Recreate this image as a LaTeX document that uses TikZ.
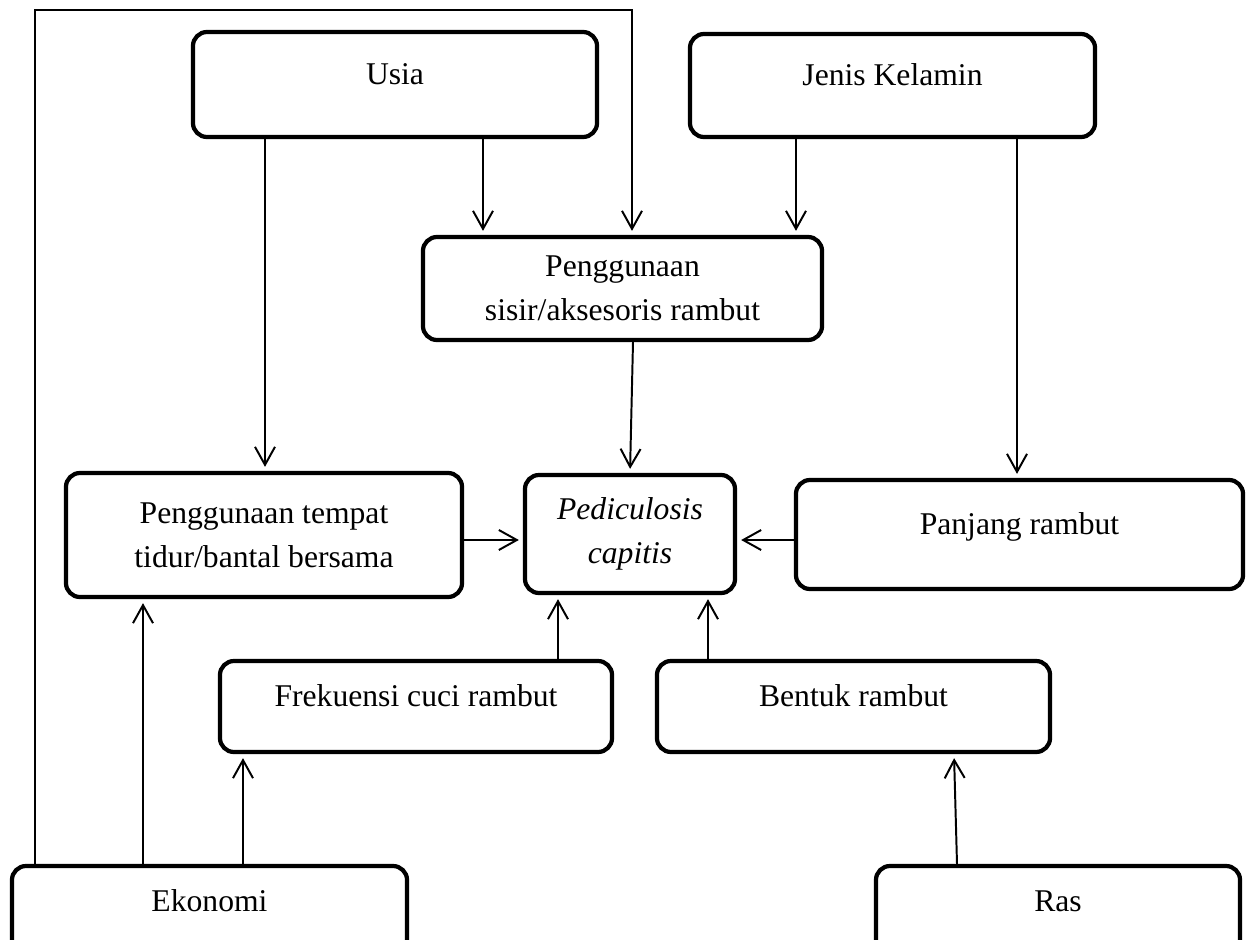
\documentclass[tikz,border=0pt]{standalone}
\usepackage{fontspec}
\setmainfont{Liberation Serif}
\usetikzlibrary{arrows.meta}
\tikzset{
  kotak/.style={draw, line width=3pt, rounded corners=10pt, align=center,
    inner sep=0pt, font=\fontsize{22.5}{31.5}\selectfont},
  satubaris/.style={text height=.7em, text depth=.7em},
  panah/.style={-{Straight Barb[length=4.5mm,width=5mm]}, line width=1.4pt, shorten >=1mm}
}
\begin{document}
\begin{tikzpicture}[x=0.025cm, y=-0.025cm]
        \useasboundingbox (0,0) rectangle (1256,940);
        \clip (0,0) rectangle (1256,940);
        % Define nodes for the factors
        \node at (395,84.5) (usia) [kotak, satubaris, minimum width=10.1cm, minimum height=2.625cm] {Usia};
        \node at (892.5,85.5) (jk) [kotak, satubaris, minimum width=10.125cm, minimum height=2.575cm] {Jenis Kelamin};
        \node at (622.5,288.5) (sisir) [kotak, minimum width=9.975cm, minimum height=2.575cm] {Penggunaan\\sisir/aksesoris rambut};
        \node at (264,535) (tempat) [kotak, minimum width=9.9cm, minimum height=3.1cm] {Penggunaan tempat\\tidur/bantal bersama};
        \node at (630,534) (ped) [kotak, minimum width=5.25cm, minimum height=2.95cm] {\textit{Pediculosis}\\\textit{capitis}};
        \node at (1019.5,534.5) (panjang) [kotak, satubaris, minimum width=11.175cm, minimum height=2.725cm] {Panjang rambut};
        \node at (416,706.5) (frek) [kotak, satubaris, minimum width=9.8cm, minimum height=2.275cm] {Frekuensi cuci rambut};
        \node at (853.5,706.5) (bentuk) [kotak, satubaris, minimum width=9.825cm, minimum height=2.275cm] {Bentuk rambut};
        \node at (209.5,911) (eko) [kotak, satubaris, minimum width=9.875cm, minimum height=2.25cm] {Ekonomi};
        \node at (1058,911) (ras) [kotak, satubaris, minimum width=9.1cm, minimum height=2.25cm] {Ras};

        % Draw edges
        \draw[panah] (eko.north -| 35,0) |- (632,10) -- (sisir.north -| 632,0);
        \draw[panah] (usia.south -| 265,0) -- (tempat.north -| 265,0);
        \draw[panah] (usia.south -| 483,0) -- (sisir.north -| 483,0);
        \draw[panah] (jk.south -| 796,0) -- (sisir.north -| 796,0);
        \draw[panah] (jk.south -| 1017,0) -- (panjang.north -| 1017,0);
        \draw[panah] (sisir.south -| 633,0) -- (ped.north -| 630,0);
        \draw[panah] (tempat.east |- 0,540) -- (ped.west |- 0,540);
        \draw[panah] (panjang.west |- 0,540) -- (ped.east |- 0,540);
        \draw[panah] (frek.north -| 558,0) -- (ped.south -| 558,0);
        \draw[panah] (bentuk.north -| 708,0) -- (ped.south -| 708,0);
        \draw[panah] (eko.north -| 143,0) -- (tempat.south -| 143,0);
        \draw[panah] (eko.north -| 243,0) -- (frek.south -| 243,0);
        \draw[panah] (ras.north -| 957,0) -- (bentuk.south -| 954,0);
\end{tikzpicture}
\end{document}
